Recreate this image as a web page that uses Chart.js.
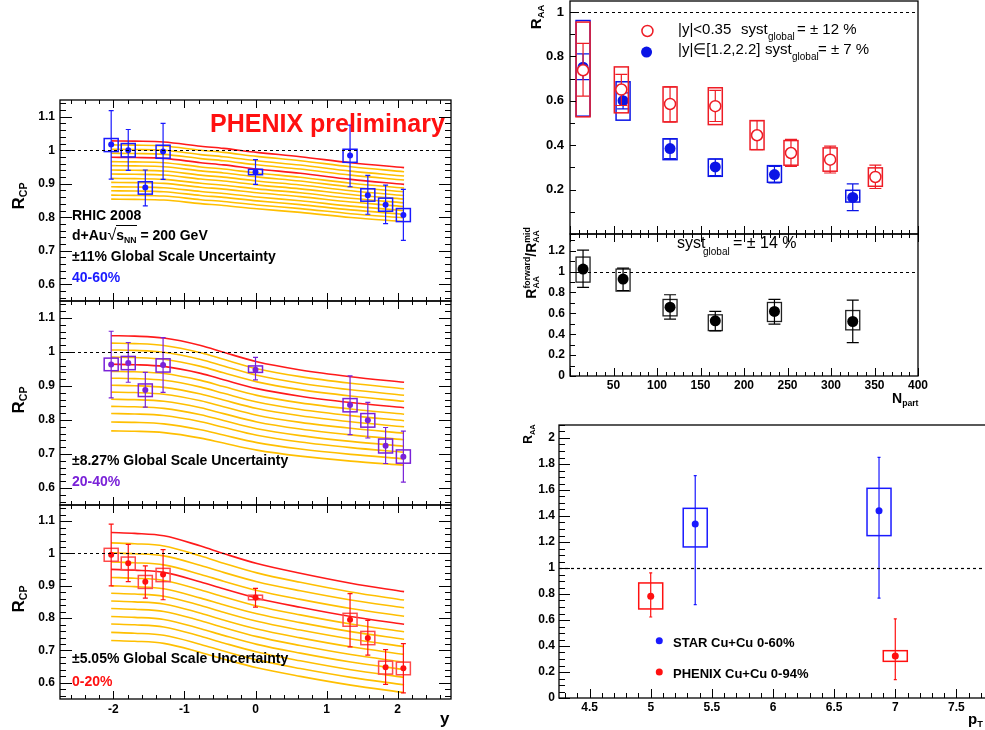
<!DOCTYPE html>
<html>
<head>
<meta charset="utf-8">
<script src="https://cdn.jsdelivr.net/npm/chart.js@4.4.1/dist/chart.umd.min.js"></script>
<style>
  body { margin: 0; width: 985px; height: 730px; overflow: hidden; background: #fff; position: relative;
         font-family: "Liberation Sans", Arial, Helvetica, sans-serif; }
  canvas { position: absolute; }
  .t { position: absolute; white-space: nowrap; font-weight: bold; line-height: 1; transform: translateY(-50%); z-index: 2; }
  .n { font-weight: normal; }
  .rot { position: absolute; white-space: nowrap; font-weight: bold; line-height: 1; transform: translate(-50%, -50%) rotate(-90deg); z-index: 2; }
  sub { font-size: 62%; vertical-align: -0.35em; line-height: 0; }
  .stk { display: inline-flex; flex-direction: column; font-size: 62%; line-height: 1.0; vertical-align: middle; }
</style>
</head>
<body>
<canvas id="c1"></canvas>
<canvas id="c2"></canvas>
<canvas id="c3"></canvas>
<canvas id="c4"></canvas>
<canvas id="c5"></canvas>
<canvas id="c6"></canvas>

<!-- left column annotations -->
<div class="t" style="left:210px;top:123px;font-size:25px;color:#ff1010">PHENIX preliminary</div>
<div class="t" style="left:72px;top:215px;font-size:14px">RHIC 2008</div>
<div class="t" style="left:72px;top:235px;font-size:14px">d+Au<span style="font-weight:normal;font-size:16px">&radic;</span><span style="border-top:1.5px solid #000;padding-top:1px">s<sub>NN</sub></span> = 200 GeV</div>
<div class="t" style="left:72px;top:256px;font-size:14px">&plusmn;11% Global Scale Uncertainty</div>
<div class="t" style="left:72px;top:277px;font-size:14px;color:#1a1aff">40-60%</div>
<div class="t" style="left:72px;top:460px;font-size:14px">&plusmn;8.27% Global Scale Uncertainty</div>
<div class="t" style="left:72px;top:481px;font-size:14px;color:#7a22d8">20-40%</div>
<div class="t" style="left:72px;top:658px;font-size:14px">&plusmn;5.05% Global Scale Uncertainty</div>
<div class="t" style="left:72px;top:681px;font-size:14px;color:#ff1010">0-20%</div>
<div class="rot" style="left:18px;top:196px;font-size:17px">R<sub>CP</sub></div>
<div class="rot" style="left:18px;top:400px;font-size:17px">R<sub>CP</sub></div>
<div class="rot" style="left:18px;top:599px;font-size:17px">R<sub>CP</sub></div>
<div class="t" style="left:440px;top:718px;font-size:17px">y</div>

<!-- right top annotations -->
<div class="rot" style="left:535px;top:17px;font-size:15px">R<sub>AA</sub></div>
<div class="t n" style="left:678px;top:28px;font-size:15px">|y|&lt;0.35</div>
<div class="t n" style="left:741px;top:28px;font-size:15px">syst</div>
<div class="t n" style="left:768px;top:37px;font-size:10px">global</div>
<div class="t n" style="left:797px;top:28px;font-size:15px">= &plusmn; 12 %</div>
<div class="t n" style="left:678px;top:48px;font-size:15px">|y|&isin;[1.2,2.2]</div>
<div class="t n" style="left:765px;top:48px;font-size:15px">syst</div>
<div class="t n" style="left:792px;top:57px;font-size:10px">global</div>
<div class="t n" style="left:818px;top:48px;font-size:15px">= &plusmn; 7 %</div>
<div class="t n" style="left:677px;top:243px;font-size:16px">syst</div>
<div class="t n" style="left:703px;top:252px;font-size:10px">global</div>
<div class="t n" style="left:733px;top:243px;font-size:16px">= &plusmn; 14 %</div>
<div class="rot" style="left:532px;top:263px;font-size:14px">R<span class="stk"><span>forward</span><span>AA</span></span>/R<span class="stk"><span>mid</span><span>AA</span></span></div>
<div class="t" style="left:892px;top:398px;font-size:14px">N<sub>part</sub></div>

<!-- right bottom annotations -->
<div class="rot n" style="left:528px;top:434px;font-size:12px">R<sub>AA</sub></div>
<div class="t" style="left:673px;top:642px;font-size:13px">STAR Cu+Cu 0-60%</div>
<div class="t" style="left:673px;top:673px;font-size:13px">PHENIX Cu+Cu 0-94%</div>
<div class="t" style="left:968px;top:718px;font-size:15px">p<sub>T</sub></div>

<script>
// ---------------- data ----------------
// left column: R_CP vs rapidity, d+Au 200 GeV
const rapidity = [-2.03, -1.79, -1.55, -1.3, 0, 1.33, 1.58, 1.83, 2.08];
const rcpAxisTicks = [0.6, 0.7, 0.8, 0.9, 1, 1.1];
const rapidityTicks = [-2, -1, 0, 1, 2];

const rcp4060       = [1.017, 1.000, 0.889, 0.996, 0.935, 0.984, 0.866, 0.837, 0.807];
const rcp4060StatHi = [1.118, 1.062, 0.941, 1.080, 0.972, 1.075, 0.925, 0.896, 0.883];
const rcp4060StatLo = [0.914, 0.940, 0.834, 0.913, 0.898, 0.891, 0.809, 0.781, 0.731];
const rcp4060SysHi  = [1.035, 1.020, 0.906, 1.015, 0.943, 1.003, 0.885, 0.857, 0.826];
const rcp4060SysLo  = [0.996, 0.980, 0.869, 0.976, 0.927, 0.964, 0.848, 0.818, 0.787];

const rcp2040       = [0.963, 0.968, 0.888, 0.962, 0.948, 0.844, 0.799, 0.724, 0.692];
const rcp2040StatHi = [1.061, 1.028, 0.940, 1.042, 0.984, 0.930, 0.852, 0.778, 0.767];
const rcp2040StatLo = [0.865, 0.911, 0.838, 0.881, 0.918, 0.757, 0.747, 0.672, 0.617];
const rcp2040SysHi  = [0.982, 0.987, 0.906, 0.980, 0.959, 0.863, 0.819, 0.744, 0.712];
const rcp2040SysLo  = [0.945, 0.948, 0.869, 0.941, 0.940, 0.824, 0.779, 0.703, 0.673];

const rcp020       = [0.996, 0.970, 0.913, 0.935, 0.864, 0.795, 0.739, 0.648, 0.645];
const rcp020StatHi = [1.091, 1.028, 0.962, 1.012, 0.892, 0.876, 0.793, 0.703, 0.721];
const rcp020StatLo = [0.900, 0.913, 0.862, 0.857, 0.834, 0.711, 0.686, 0.595, 0.569];
const rcp020SysHi  = [1.016, 0.989, 0.932, 0.954, 0.871, 0.815, 0.759, 0.667, 0.664];
const rcp020SysLo  = [0.976, 0.950, 0.892, 0.913, 0.857, 0.775, 0.718, 0.627, 0.625];

// model curves: start (y=-2) and end (y=+2) of every line, plus the common profile
const bandX = [-2.03, -1.7, -1.29, -0.77, -0.45, 0.02, 0.63, 1.34, 2.09];
const bandProfile4060 = [0, 0.01, 0.04, 0.20, 0.28, 0.43, 0.59, 0.815, 1];
const bandStart4060 = [1.028, 1.016, 1.003, 0.991, 0.979, 0.966, 0.954, 0.941, 0.929, 0.916, 0.904, 0.891, 0.879, 0.866, 0.854];
const bandEnd4060   = [0.948, 0.936, 0.923, 0.911, 0.898, 0.887, 0.876, 0.865, 0.854, 0.843, 0.832, 0.820, 0.809, 0.798, 0.787];
const bandProfile2040 = [0, 0.01, 0.05, 0.21, 0.355, 0.56, 0.735, 0.88, 1];
const bandStart2040 = [1.048, 1.026, 1.006, 0.985, 0.964, 0.943, 0.923, 0.902, 0.882, 0.861, 0.840, 0.819, 0.794, 0.768];
const bandEnd2040   = [0.911, 0.892, 0.873, 0.855, 0.836, 0.817, 0.798, 0.780, 0.761, 0.742, 0.723, 0.705, 0.686, 0.667];
const bandProfile020 = [0, 0.015, 0.055, 0.23, 0.355, 0.525, 0.69, 0.858, 1];
const bandStart020 = [1.065, 1.033, 1.002, 0.974, 0.951, 0.926, 0.900, 0.877, 0.853, 0.830, 0.805, 0.782, 0.756, 0.731];
const bandEnd020   = [0.882, 0.856, 0.832, 0.806, 0.781, 0.758, 0.735, 0.712, 0.688, 0.664, 0.641, 0.617, 0.594, 0.570];
const bandRedLines = [0, 4];

// right top: R_AA vs N_part
const npartMid = [15, 59, 115, 167, 215, 254, 299, 351];
const raaMid       = [0.738, 0.651, 0.586, 0.576, 0.445, 0.365, 0.335, 0.257];
const raaMidStatHi = [0.859, 0.719, 0.663, 0.647, 0.511, 0.426, 0.396, 0.310];
const raaMidStatLo = [0.621, 0.579, 0.505, 0.507, 0.380, 0.305, 0.275, 0.205];
const raaMidSysHi  = [0.955, 0.753, 0.663, 0.659, 0.511, 0.421, 0.388, 0.298];
const raaMidSysLo  = [0.528, 0.546, 0.505, 0.493, 0.380, 0.310, 0.283, 0.215];

const npartFwd = [15, 61, 115, 167, 235, 325];
const raaFwd       = [0.752, 0.601, 0.385, 0.302, 0.268, 0.165];
const raaFwdStatHi = [0.812, 0.636, 0.429, 0.338, 0.305, 0.226];
const raaFwdStatLo = [0.696, 0.564, 0.340, 0.263, 0.230, 0.105];
const raaFwdSysHi  = [0.962, 0.686, 0.429, 0.338, 0.308, 0.197];
const raaFwdSysLo  = [0.531, 0.513, 0.335, 0.260, 0.233, 0.144];
const raaTicks = [0.2, 0.4, 0.6, 0.8, 1];
const raaLegendX = [89, 88];
const raaLegendY = [0.915, 0.82];

// right middle: forward / mid ratio
const ratio       = [1.024, 0.928, 0.659, 0.528, 0.618, 0.522];
const ratioStatHi = [1.206, 1.034, 0.778, 0.618, 0.733, 0.726];
const ratioStatLo = [0.848, 0.819, 0.544, 0.432, 0.496, 0.320];
const ratioSysHi  = [1.139, 1.024, 0.733, 0.586, 0.704, 0.627];
const ratioSysLo  = [0.899, 0.813, 0.576, 0.435, 0.522, 0.442];
const ratioTicks = [0, 0.2, 0.4, 0.6, 0.8, 1, 1.2];
const npartTicks = [50, 100, 150, 200, 250, 300, 350, 400];

// right bottom: R_AA vs pT
const ptStar = [5.364, 6.867];
const raaStar       = [1.338, 1.441];
const raaStarStatHi = [1.710, 1.851];
const raaStarStatLo = [0.718, 0.769];
const raaStarSysHi  = [1.459, 1.613];
const raaStarSysLo  = [1.162, 1.249];
const ptPhenix = [5.0, 7.0];
const raaPhenix       = [0.782, 0.323];
const raaPhenixStatHi = [0.962, 0.608];
const raaPhenixStatLo = [0.623, 0.141];
const raaPhenixSysHi  = [0.885, 0.364];
const raaPhenixSysLo  = [0.685, 0.282];
const legendY = [0.44, 0.2];
const ptTicks = [4.5, 5, 5.5, 6, 6.5, 7, 7.5];
const raaPtTicks = [0, 0.2, 0.4, 0.6, 0.8, 1, 1.2, 1.4, 1.6, 1.8, 2];

// ---------------- drawing helpers ----------------
const ORANGE = "#ffbf00";
const REDLINE = "#ff1a1a";
const panels = {};

function series(x, y, hi, lo, sysHi, sysLo, style) {
  return Object.assign({ x, y, hi, lo, sysHi, sysLo }, style);
}

function bandSets(profile, starts, ends) {
  return starts.map((s0, i) => {
    const red = bandRedLines.includes(i);
    return {
      type: "line",
      data: bandX.map((x, k) => ({ x: x, y: s0 + (ends[i] - s0) * profile[k] })),
      borderColor: red ? REDLINE : ORANGE,
      borderWidth: 1.6,
      pointRadius: 0,
      cubicInterpolationMode: "monotone",
      order: red ? 1 : 2,
    };
  });
}

function drawErrors(chart, s) {
  const { ctx, chartArea: a } = chart;
  const xs = chart.scales.x, ys = chart.scales.y;
  ctx.save();
  ctx.beginPath();
  ctx.rect(a.left, a.top, a.width, a.height);
  ctx.clip();
  ctx.strokeStyle = s.boxColor || s.color;
  ctx.lineWidth = s.boxWidth || 1.5;
  s.x.forEach((xv, i) => {
    if (!s.sysHi) return;
    const px = xs.getPixelForValue(xv);
    const y0 = ys.getPixelForValue(s.sysHi[i]), y1 = ys.getPixelForValue(s.sysLo[i]);
    ctx.strokeRect(px - s.boxHalf, y0, 2 * s.boxHalf, y1 - y0);
  });
  ctx.strokeStyle = s.barColor || s.color;
  ctx.lineWidth = s.barWidth || 1.2;
  s.x.forEach((xv, i) => {
    if (!s.hi) return;
    const px = xs.getPixelForValue(xv);
    const ph = ys.getPixelForValue(s.hi[i]), pl = ys.getPixelForValue(s.lo[i]);
    ctx.beginPath();
    ctx.moveTo(px, ph); ctx.lineTo(px, pl);
    ctx.moveTo(px - s.cap, ph); ctx.lineTo(px + s.cap, ph);
    ctx.moveTo(px - s.cap, pl); ctx.lineTo(px + s.cap, pl);
    ctx.stroke();
  });
  ctx.restore();
}

function drawAxisTicks(chart, scale, t, horizontal) {
  const { ctx, chartArea: a } = chart;
  const n0 = Math.ceil(scale.min / t.minor - 1e-6), n1 = Math.floor(scale.max / t.minor + 1e-6);
  for (let k = n0; k <= n1; k++) {
    const v = k * t.minor;
    const r = v / t.major;
    const len = Math.abs(r - Math.round(r)) < 1e-6 ? t.len : t.minorLen;
    const p = Math.round(scale.getPixelForValue(v)) + 0.5;
    ctx.beginPath();
    if (horizontal) {
      if (t.sides.includes("bottom")) { ctx.moveTo(p, a.bottom); ctx.lineTo(p, a.bottom - len); }
      if (t.sides.includes("top")) { ctx.moveTo(p, a.top); ctx.lineTo(p, a.top + len); }
    } else {
      if (t.sides.includes("left")) { ctx.moveTo(a.left, p); ctx.lineTo(a.left + len, p); }
      if (t.sides.includes("right")) { ctx.moveTo(a.right, p); ctx.lineTo(a.right - len, p); }
    }
    ctx.stroke();
  }
}

const deco = {
  id: "deco",
  beforeDatasetDraw(chart, args) {
    const ds = chart.data.datasets[args.index];
    if (ds.series) drawErrors(chart, ds.series);
  },
  afterDatasetsDraw(chart) {
    const p = panels[chart.canvas.id];
    if (p.refLine == null) return;
    const { ctx, chartArea: a } = chart;
    const y = Math.round(chart.scales.y.getPixelForValue(p.refLine)) + 0.5;
    ctx.save();
    ctx.strokeStyle = "#000";
    ctx.lineWidth = 1.2;
    ctx.setLineDash([3, 3]);
    ctx.beginPath(); ctx.moveTo(a.left, y); ctx.lineTo(a.right, y); ctx.stroke();
    ctx.restore();
  },
  afterDraw(chart) {
    const p = panels[chart.canvas.id];
    const { ctx, chartArea: a } = chart;
    ctx.save();
    ctx.strokeStyle = "#000";
    ctx.lineWidth = 1.3;
    ctx.strokeRect(a.left, a.top, a.width, a.height);
    ctx.lineWidth = 1;
    drawAxisTicks(chart, chart.scales.x, p.xMarks, true);
    drawAxisTicks(chart, chart.scales.y, p.yMarks, false);
    ctx.restore();
  },
};

function makePanel(id, p) {
  const L = 60, T = 14, R = 26, B = 32;
  panels[id] = p;
  const cv = document.getElementById(id);
  const w = p.area[2] - p.area[0], h = p.area[3] - p.area[1];
  cv.width = w + L + R;
  cv.height = h + T + B;
  cv.style.left = (p.area[0] - L) + "px";
  cv.style.top = (p.area[1] - T) + "px";
  cv.style.width = cv.width + "px";
  cv.style.height = cv.height + "px";

  const datasets = (p.bands || []).slice();
  p.series.forEach((s) => {
    datasets.push({
      type: "scatter",
      data: s.x.map((x, k) => ({ x: x, y: s.y[k] })),
      series: s,
      order: 0,
      pointRadius: s.r,
      pointBackgroundColor: s.fill || s.color,
      pointBorderColor: s.color,
      pointBorderWidth: s.bw || 0,
      pointHoverRadius: s.r,
    });
  });

  const tickFont = { family: "'Liberation Sans', Arial, sans-serif", size: p.fontSize || 12, weight: "bold" };
  new Chart(cv, {
    type: "scatter",
    data: { datasets },
    options: {
      responsive: false,
      animation: false,
      events: [],
      layout: { padding: { left: 0, top: T, right: R, bottom: 0 } },
      plugins: { legend: { display: false }, tooltip: { enabled: false } },
      scales: {
        x: {
          type: "linear", min: p.xMin, max: p.xMax,
          grid: { display: false, drawTicks: false }, border: { display: false },
          afterFit: (s) => { s.height = B; },
          afterBuildTicks: (s) => { s.ticks = p.xTicks.map((v) => ({ value: v })); },
          ticks: { display: !!p.xLabels, autoSkip: false, maxRotation: 0, padding: p.xPad || 3,
                   color: "#000", font: tickFont, callback: (v) => String(v) },
        },
        y: {
          type: "linear", min: p.yMin, max: p.yMax,
          grid: { display: false, drawTicks: false }, border: { display: false },
          afterFit: (s) => { s.width = L; },
          afterBuildTicks: (s) => { s.ticks = p.yTicks.map((v) => ({ value: v })); },
          ticks: { autoSkip: false, padding: p.yPad || 5, color: "#000", font: tickFont,
                   callback: (v) => String(v) },
        },
      },
    },
    plugins: [deco],
  });
}

// ---------------- panels ----------------
const leftMarks = {
  x: { major: 1, minor: 0.2, len: 8, minorLen: 4, sides: ["top", "bottom"] },
  y: { major: 0.1, minor: 0.02, len: 12, minorLen: 6, sides: ["left", "right"] },
};
const BLUE = "#1a1aff", PURPLE = "#7a22d8", RED = "#ff1010";

function leftPanel(id, top, bottom, s, bands, labels) {
  makePanel(id, {
    area: [60, top, 451, bottom], xMin: -2.75, xMax: 2.75, yMin: 0.55, yMax: 1.15,
    xTicks: rapidityTicks, yTicks: rcpAxisTicks, xLabels: labels,
    xMarks: leftMarks.x, yMarks: leftMarks.y, refLine: 1, fontSize: 12,
    series: [s], bands: bands,
  });
}

leftPanel("c1", 100, 301,
  series(rapidity, rcp4060, rcp4060StatHi, rcp4060StatLo, rcp4060SysHi, rcp4060SysLo,
         { color: BLUE, r: 3, cap: 2.5, boxHalf: 7, boxWidth: 1.5 }),
  bandSets(bandProfile4060, bandStart4060, bandEnd4060), false);
leftPanel("c2", 301, 505,
  series(rapidity, rcp2040, rcp2040StatHi, rcp2040StatLo, rcp2040SysHi, rcp2040SysLo,
         { color: PURPLE, r: 3, cap: 2.5, boxHalf: 7, boxWidth: 1.5 }),
  bandSets(bandProfile2040, bandStart2040, bandEnd2040), false);
leftPanel("c3", 505, 699,
  series(rapidity, rcp020, rcp020StatHi, rcp020StatLo, rcp020SysHi, rcp020SysLo,
         { color: RED, boxColor: "#ff4a4a", r: 3, cap: 2.5, boxHalf: 7, boxWidth: 1.5 }),
  bandSets(bandProfile020, bandStart020, bandEnd020), true);

makePanel("c4", {
  area: [570, 1, 918, 234], xMin: 0, xMax: 400, yMin: 0, yMax: 1.05,
  xTicks: npartTicks, yTicks: raaTicks, xLabels: false, refLine: 1, fontSize: 13, yPad: 6,
  xMarks: { major: 50, minor: 10, len: 8, minorLen: 4, sides: ["bottom"] },
  yMarks: { major: 0.2, minor: 0.1, len: 6, minorLen: 5, sides: ["left"] },
  series: [
    series(npartMid, raaMid, raaMidStatHi, raaMidStatLo, raaMidSysHi, raaMidSysLo,
           { color: "#ee1c25", fill: "#fff", bw: 1.5, r: 5.5, cap: 6, boxHalf: 7, boxWidth: 1.5 }),
    series(npartFwd, raaFwd, raaFwdStatHi, raaFwdStatLo, raaFwdSysHi, raaFwdSysLo,
           { color: "#0a14e6", r: 5.5, cap: 6, boxHalf: 7, boxWidth: 1.5 }),
    // legend markers: open red, filled blue
    series([raaLegendX[0]], [raaLegendY[0]], null, null, null, null,
           { color: "#ee1c25", fill: "#fff", bw: 1.5, r: 5.5 }),
    series([raaLegendX[1]], [raaLegendY[1]], null, null, null, null,
           { color: "#0a14e6", r: 5.5 }),
  ],
});

makePanel("c5", {
  area: [570, 234, 918, 376], xMin: 0, xMax: 400, yMin: 0, yMax: 1.36,
  xTicks: npartTicks, yTicks: ratioTicks, xLabels: true, refLine: 1, fontSize: 12, xPad: 2,
  xMarks: { major: 50, minor: 10, len: 8, minorLen: 4, sides: ["bottom", "top"] },
  yMarks: { major: 0.2, minor: 0.1, len: 6, minorLen: 5, sides: ["left"] },
  series: [
    series(npartFwd, ratio, ratioStatHi, ratioStatLo, ratioSysHi, ratioSysLo,
           { color: "#000", boxColor: "#222", r: 5.5, cap: 6, boxHalf: 7, boxWidth: 1.3 }),
  ],
});

makePanel("c6", {
  area: [559, 425, 987, 698], xMin: 4.25, xMax: 7.75, yMin: 0, yMax: 2.1,
  xTicks: ptTicks, yTicks: raaPtTicks, xLabels: true, refLine: 1, fontSize: 12, yPad: 4, xPad: 2,
  xMarks: { major: 0.5, minor: 0.1, len: 9, minorLen: 5, sides: ["bottom"] },
  yMarks: { major: 0.2, minor: 0.05, len: 11, minorLen: 6, sides: ["left"] },
  series: [
    series(ptStar, raaStar, raaStarStatHi, raaStarStatLo, raaStarSysHi, raaStarSysLo,
           { color: "#1a1aff", r: 3.5, cap: 1.5, boxHalf: 12, boxWidth: 1.5 }),
    series(ptPhenix, raaPhenix, raaPhenixStatHi, raaPhenixStatLo, raaPhenixSysHi, raaPhenixSysLo,
           { color: "#ff1010", r: 3.5, cap: 1.5, boxHalf: 12, boxWidth: 1.5 }),
    series([5.07], [legendY[0]], null, null, null, null, { color: "#1a1aff", r: 3.5 }),
    series([5.07], [legendY[1]], null, null, null, null, { color: "#ff1010", r: 3.5 }),
  ],
});
</script>
</body>
</html>
